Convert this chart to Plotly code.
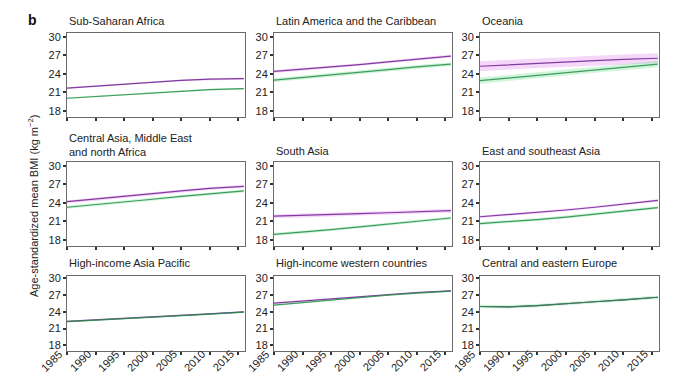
import plotly.graph_objects as go

years = [1985, 1990, 1995, 2000, 2005, 2010, 2016]

regions = [
    "Sub-Saharan Africa", "Latin America and the Caribbean", "Oceania",
    "Central Asia, Middle East<br>and north Africa", "South Asia", "East and southeast Asia",
    "High-income Asia Pacific", "High-income western countries", "Central and eastern Europe",
]

purple_vals = [
    [21.7, 22.0, 22.35, 22.7, 22.95, 23.15, 23.25],
    [24.4, 24.75, 25.1, 25.5, 25.95, 26.4, 26.9],
    [25.25, 25.5, 25.75, 25.95, 26.15, 26.35, 26.55],
    [24.2, 24.6, 25.05, 25.5, 25.95, 26.35, 26.7],
    [21.85, 21.95, 22.1, 22.25, 22.4, 22.55, 22.75],
    [21.75, 22.1, 22.5, 22.85, 23.3, 23.8, 24.4],
    [22.3, 22.55, 22.85, 23.1, 23.35, 23.65, 24.0],
    [25.55, 25.95, 26.35, 26.75, 27.1, 27.45, 27.75],
    [24.95, 24.9, 25.1, 25.4, 25.8, 26.15, 26.6],
]
green_vals = [
    [20.05, 20.35, 20.65, 20.95, 21.2, 21.45, 21.6],
    [23.0, 23.4, 23.8, 24.25, 24.7, 25.15, 25.6],
    [22.9, 23.35, 23.8, 24.25, 24.7, 25.15, 25.6],
    [23.3, 23.7, 24.15, 24.6, 25.05, 25.5, 25.95],
    [18.9, 19.25, 19.65, 20.1, 20.55, 21.0, 21.55],
    [20.65, 20.95, 21.3, 21.7, 22.15, 22.65, 23.25],
    [22.25, 22.5, 22.8, 23.05, 23.3, 23.6, 23.95],
    [25.2, 25.65, 26.15, 26.6, 27.0, 27.35, 27.7],
    [24.95, 24.9, 25.1, 25.4, 25.8, 26.15, 26.6],
]
purple_unc = [0.15, 0.25, 0.8, 0.25, 0.3, 0.2, 0.15, 0.15, 0.0]
green_unc = [0.15, 0.3, 0.5, 0.25, 0.25, 0.25, 0.15, 0.15, 0.3]

y_ticks = [18, 21, 24, 27, 30]
x_ticks = [1985, 1990, 1995, 2000, 2005, 2010, 2015]

W, H = 686, 378
col_px = [(59, 237), (266, 444), (472, 651)]
row_px = [(25, 109), (154, 238), (268, 343)]
row_yrange = [[17.0, 30.65], [17.0, 30.65], [17.0, 30.4]]
title_y = [13, 143, 255]

PURPLE = "rgb(128,58,160)"
GREEN = "rgb(38,140,72)"
PURPLE_BAND = "rgba(225,140,240,0.35)"
GREEN_BAND = "rgba(120,225,150,0.35)"
FONT = "Liberation Sans, Arial, sans-serif"

fig = go.Figure()
layout = {}
annotations = []

for i, name in enumerate(regions):
    r, c = divmod(i, 3)
    n = i + 1
    xa = "x" if n == 1 else f"x{n}"
    ya = "y" if n == 1 else f"y{n}"
    for vals, unc, band in [
        (purple_vals[i], purple_unc[i], PURPLE_BAND),
        (green_vals[i], green_unc[i], GREEN_BAND),
    ]:
        if unc <= 0:
            continue
        upper = [v + unc for v in vals]
        lower = [v - unc for v in vals]
        fig.add_trace(go.Scatter(x=years + years[::-1], y=upper + lower[::-1],
                                 fill="toself", fillcolor=band, line=dict(width=0),
                                 mode="lines", hoverinfo="skip", showlegend=False,
                                 xaxis=xa, yaxis=ya))
    fig.add_trace(go.Scatter(x=years, y=purple_vals[i], mode="lines",
                             line=dict(color=PURPLE, width=1.2), showlegend=False,
                             xaxis=xa, yaxis=ya))
    fig.add_trace(go.Scatter(x=years, y=green_vals[i], mode="lines",
                             line=dict(color=GREEN, width=1.2), opacity=0.85,
                             showlegend=False, xaxis=xa, yaxis=ya))

    x0, x1 = col_px[c]
    y0, y1 = row_px[r]
    axis_common = dict(showline=True, mirror=True, linecolor="#6b6b6b", linewidth=1,
                       ticks="outside", ticklen=3, tickcolor="#333", tickwidth=1.5,
                       showgrid=False, zeroline=False, automargin=False,
                       tickfont=dict(family=FONT, size=11, color="#222"))
    layout["xaxis" if n == 1 else f"xaxis{n}"] = dict(
        domain=[x0 / W, x1 / W], range=[1985, 2016.2], anchor=ya,
        tickvals=x_ticks, ticktext=[""] * len(x_ticks), **axis_common)
    layout["yaxis" if n == 1 else f"yaxis{n}"] = dict(
        domain=[1 - y1 / H, 1 - y0 / H], range=row_yrange[r], anchor=xa,
        tickvals=y_ticks, **axis_common)

    # rotated year labels under the bottom row
    if r == 2:
        for t in x_ticks:
            annotations.append(dict(text=str(t), x=t, xref=xa, y=1 - 347 / H, yref="paper",
                                    xanchor="right", yanchor="top", textangle=-45,
                                    xshift=0, yshift=10, showarrow=False,
                                    font=dict(family=FONT, size=11, color="#222")))

    ty = title_y[r]
    if "<br>" in name:
        ty = 137
    annotations.append(dict(text=name, x=x0 / W, y=1 - ty / H, xref="paper", yref="paper",
                            xanchor="left", yanchor="middle", showarrow=False, align="left",
                            font=dict(family=FONT, size=11, color="#222")))

annotations.append(dict(text="<b>b</b>", x=18 / W, y=1 - 12 / H, xref="paper", yref="paper",
                        xanchor="left", yanchor="middle", showarrow=False,
                        font=dict(family=FONT, size=14, color="#111")))
annotations.append(dict(text="Age-standardized mean BMI (kg m<sup>\u22122</sup>)",
                        x=25 / W, y=1 - 198 / H, xref="paper", yref="paper",
                        xanchor="center", yanchor="middle", textangle=-90, showarrow=False,
                        font=dict(family=FONT, size=11, color="#222")))

fig.update_layout(template="none", width=W, height=H, margin=dict(l=0, r=0, t=0, b=0),
                  paper_bgcolor="white", plot_bgcolor="white",
                  annotations=annotations, **layout)

fig.write_html("out.html")
